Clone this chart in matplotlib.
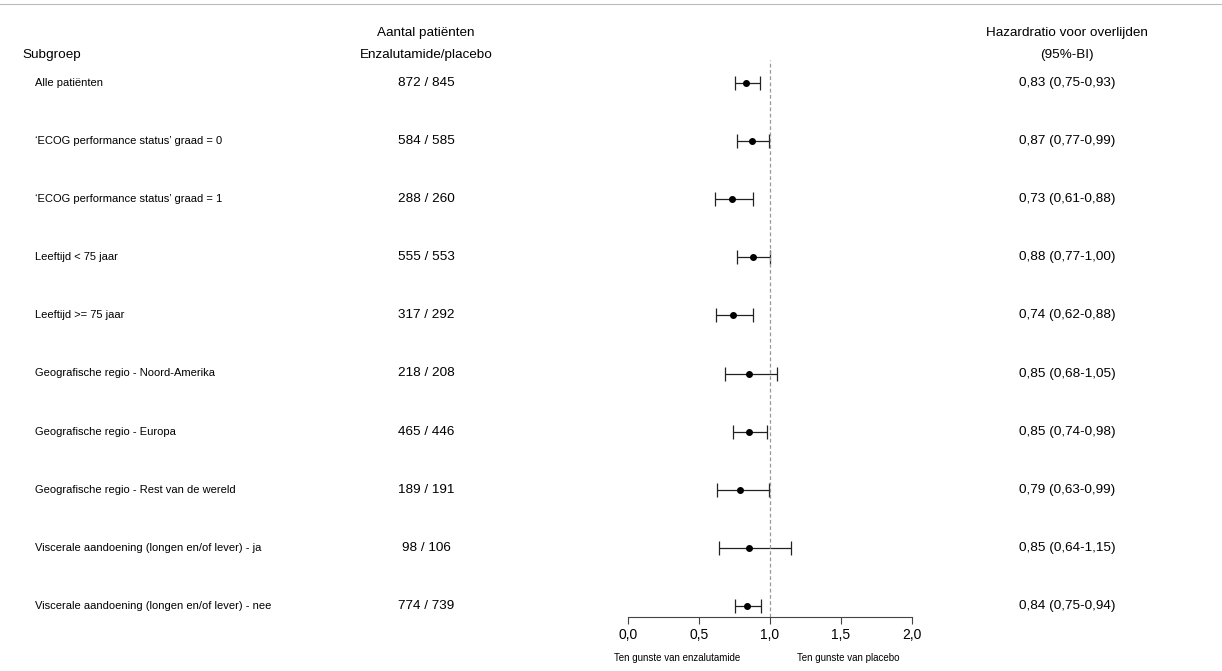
import matplotlib
matplotlib.use("Agg")
import matplotlib.pyplot as plt

plt.rcParams['font.family'] = ['Liberation Sans', 'DejaVu Sans']

subgroups = ["Alle patiënten",
             "‘ECOG performance status’ graad = 0",
             "‘ECOG performance status’ graad = 1",
             "Leeftijd < 75 jaar",
             "Leeftijd >= 75 jaar",
             "Geografische regio - Noord-Amerika",
             "Geografische regio - Europa",
             "Geografische regio - Rest van de wereld",
             "Viscerale aandoening (longen en/of lever) - ja",
             "Viscerale aandoening (longen en/of lever) - nee"]
counts = ["872 / 845", "584 / 585", "288 / 260", "555 / 553", "317 / 292",
          "218 / 208", "465 / 446", "189 / 191", "98 / 106", "774 / 739"]
hr = [0.83, 0.87, 0.73, 0.88, 0.74, 0.85, 0.85, 0.79, 0.85, 0.84]
lo = [0.75, 0.77, 0.61, 0.77, 0.62, 0.68, 0.74, 0.63, 0.64, 0.75]
hi = [0.93, 0.99, 0.88, 1.00, 0.88, 1.05, 0.98, 0.99, 1.15, 0.94]
xticks = [0.0, 0.5, 1.0, 1.5, 2.0]
xticklabels = ["0,0", "0,5", "1,0", "1,5", "2,0"]

W, H = 1222, 671
fig = plt.figure(figsize=(W/100, H/100), dpi=100)

def fx(px): return px / W
def fy(py): return 1 - py / H

fig.add_artist(plt.Line2D([0, 1], [fy(4), fy(4)], color='#bbbbbb', lw=0.8))

row0, step = 83, 58.1
ax_top, ax_bot = 60, 617
ax = fig.add_axes([fx(628), fy(ax_bot), fx(912) - fx(628), (ax_bot - ax_top) / H])
ax.set_xlim(0, 2)
ax.set_ylim(9 + (ax_bot - 606) / step, -(row0 - ax_top) / step)
ys = list(range(len(hr)))
ax.errorbar(hr, ys, xerr=[[h - l for h, l in zip(hr, lo)], [u - h for h, u in zip(hr, hi)]],
            fmt='o', color='black', ms=4, lw=0.9, capsize=5, capthick=0.9, elinewidth=0.9,
            ecolor='#222222')
ax.axvline(1.0, color='#999999', lw=0.9, ls=(0, (3, 2)))
for s in ['top', 'right', 'left']:
    ax.spines[s].set_visible(False)
ax.spines['bottom'].set_color('#444444')
ax.set_yticks([])
ax.set_xticks(xticks)
ax.set_xticklabels(xticklabels, fontsize=10)
ax.tick_params(axis='x', length=5, color='#444444', pad=3)
ax.set_facecolor('none')

for i, (s, c) in enumerate(zip(subgroups, counts)):
    y = fy(row0 + step * i)
    fig.text(fx(35), y, s, fontsize=8, va='center', ha='left')
    fig.text(fx(426), y, c, fontsize=9.7, va='center', ha='center')
    hrtxt = f"{hr[i]:.2f} ({lo[i]:.2f}-{hi[i]:.2f})".replace('.', ',')
    fig.text(fx(1067), y, hrtxt, fontsize=9.7, va='center', ha='center')

fig.text(fx(22), fy(55), "Subgroep", fontsize=9.7, va='center', ha='left')
fig.text(fx(426), fy(33), "Aantal patiënten", fontsize=9.7, va='center', ha='center')
fig.text(fx(426), fy(55), "Enzalutamide/placebo", fontsize=9.7, va='center', ha='center')
fig.text(fx(1067), fy(33), "Hazardratio voor overlijden", fontsize=9.7, va='center', ha='center')
fig.text(fx(1067), fy(55), "(95%-BI)", fontsize=9.7, va='center', ha='center')
fig.text(fx(677), fy(658), "Ten gunste van enzalutamide", fontsize=7, va='center', ha='center')
fig.text(fx(848), fy(658), "Ten gunste van placebo", fontsize=7, va='center', ha='center')

fig.savefig("out.png", dpi=100)
